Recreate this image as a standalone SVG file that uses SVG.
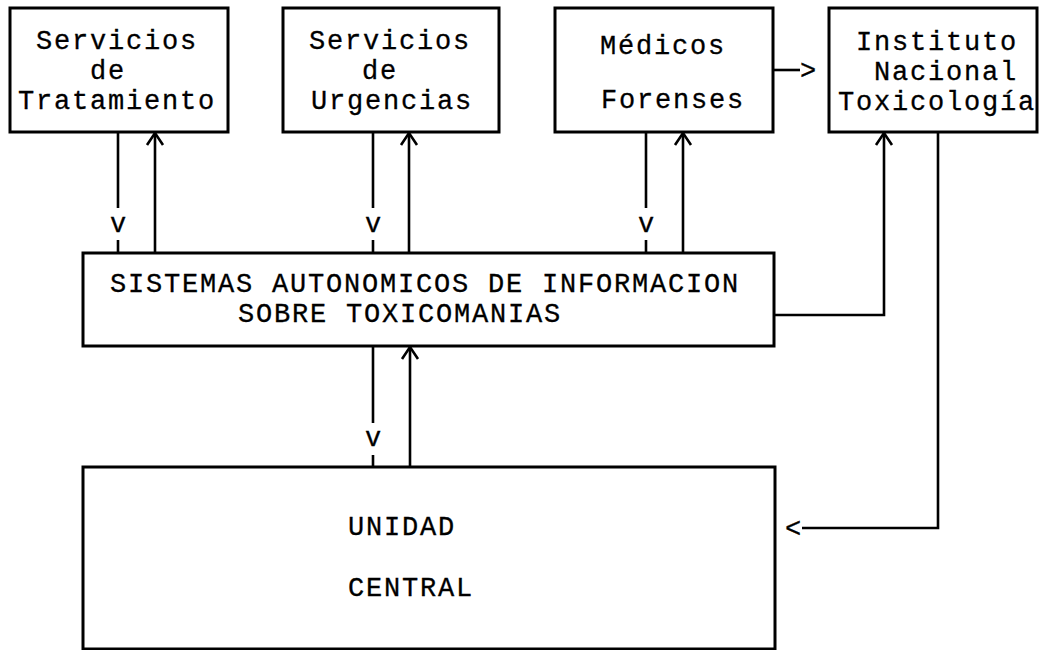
<svg xmlns="http://www.w3.org/2000/svg" width="1040" height="650" viewBox="0 0 1040 650">
<style>
.box{fill:#fff;stroke:#000;stroke-width:3}
.t{font-family:"Liberation Mono","Courier New",monospace;font-size:27px;letter-spacing:1.8px;fill:#000;stroke:#000;stroke-width:0.3}
.c{fill:none;stroke:#000;stroke-width:2.6}
.tm{text-anchor:middle;letter-spacing:0}
</style>
<defs>
<marker id="ah" viewBox="0 0 20 20" refX="14" refY="10" markerUnits="userSpaceOnUse" markerWidth="20" markerHeight="20" orient="auto">
<path d="M2,2 L14,10 L2,18" fill="none" stroke="#000" stroke-width="2.6"/>
</marker>
</defs>
<rect width="1040" height="650" fill="#fff"/>
<g id="connectors">
<path class="c" d="M118,132 V208 M118,240 V253"/>
<text class="t tm" x="118" y="232">v</text>
<path class="c" d="M155,253 V133" marker-end="url(#ah)"/>
<path class="c" d="M373,132 V208 M373,240 V253"/>
<text class="t tm" x="373" y="232">v</text>
<path class="c" d="M409,253 V133" marker-end="url(#ah)"/>
<path class="c" d="M646,132 V208 M646,240 V253"/>
<text class="t tm" x="646" y="232">v</text>
<path class="c" d="M683,253 V133" marker-end="url(#ah)"/>
<path class="c" d="M773,70 H800"/>
<text class="t" x="800" y="79">&gt;</text>
<path class="c" d="M774,315 H884 V133" marker-end="url(#ah)"/>
<path class="c" d="M938,132 V528 H802"/>
<text class="t" x="785" y="537">&lt;</text>
<path class="c" d="M373,346 V423 M373,455 V467"/>
<text class="t tm" x="373" y="446">v</text>
<path class="c" d="M410,467 V347" marker-end="url(#ah)"/>
</g>
<g id="n1">
<rect class="box" x="10" y="8" width="218" height="124"/>
<text class="t" x="36" y="49">Servicios</text>
<text class="t" x="90" y="79">de</text>
<text class="t" x="18" y="109">Tratamiento</text>
</g>
<g id="n2">
<rect class="box" x="283" y="8" width="216" height="124"/>
<text class="t" x="309" y="49">Servicios</text>
<text class="t" x="362" y="79">de</text>
<text class="t" x="311" y="109">Urgencias</text>
</g>
<g id="n3">
<rect class="box" x="555" y="8" width="218" height="124"/>
<text class="t" x="600" y="54">Médicos</text>
<text class="t" x="601" y="108">Forenses</text>
</g>
<g id="n4">
<rect class="box" x="829" y="8" width="208" height="124"/>
<text class="t" x="856" y="50">Instituto</text>
<text class="t" x="874" y="80">Nacional</text>
<text class="t" x="838" y="110">Toxicología</text>
</g>
<g id="n5">
<rect class="box" x="83" y="253" width="691" height="93"/>
<text class="t" x="110" y="292">SISTEMAS AUTONOMICOS DE INFORMACION</text>
<text class="t" x="238" y="322">SOBRE TOXICOMANIAS</text>
</g>
<g id="n6">
<rect class="box" x="83" y="467" width="692" height="182"/>
<text class="t" x="348" y="535">UNIDAD</text>
<text class="t" x="348" y="596">CENTRAL</text>
</g>
</svg>
